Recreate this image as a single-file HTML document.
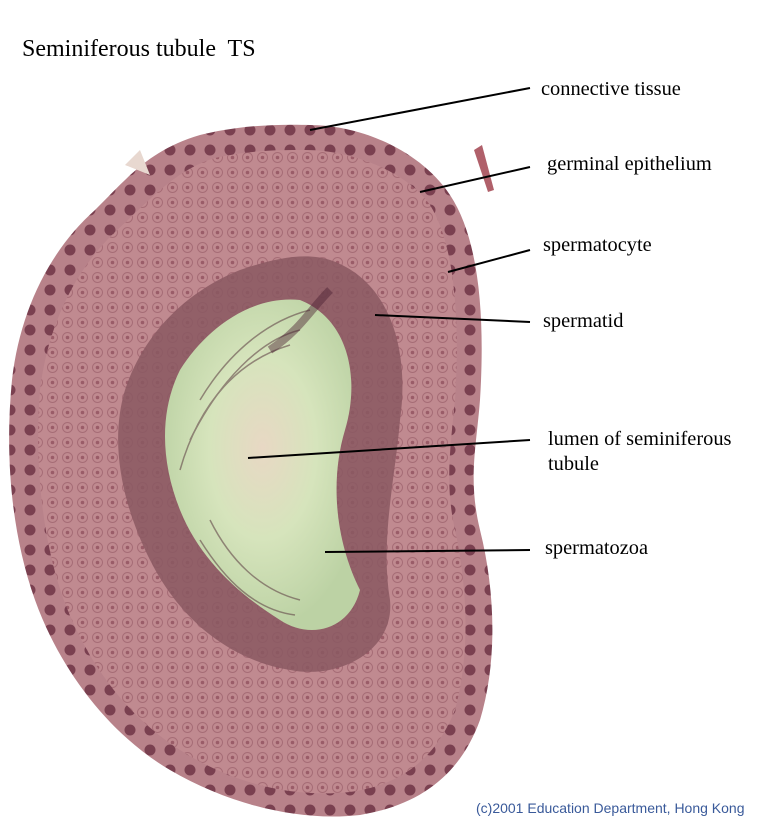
<!DOCTYPE html>
<html><head><meta charset="utf-8"><style>
html,body{margin:0;padding:0;background:#fff;}
body{width:757px;height:831px;overflow:hidden;position:relative;font-family:"Liberation Serif",serif;}
.t{position:absolute;font-size:20.4px;color:#000;white-space:nowrap;}
</style></head><body>
<svg width="757" height="831" style="position:absolute;left:0;top:0">
<defs>
<pattern id="cells" width="15" height="15" patternUnits="userSpaceOnUse">
<rect width="15" height="15" fill="#c08a90"/>
<circle cx="7.5" cy="7.5" r="5" fill="none" stroke="#a66c76" stroke-width="1"/>
<circle cx="7.5" cy="7.5" r="1.8" fill="#9a5c68"/>
</pattern>
<pattern id="nuc" width="20" height="20" patternUnits="userSpaceOnUse">
<rect width="20" height="20" fill="#b8828a"/>
<circle cx="10" cy="10" r="5.5" fill="#7a4050"/>
</pattern>
<radialGradient id="lum" cx="0.5" cy="0.45" r="0.55">
<stop offset="0" stop-color="#e8d8c4"/>
<stop offset="0.5" stop-color="#d6e4bc"/>
<stop offset="1" stop-color="#bcd2a4"/>
</radialGradient>
</defs>
<path d="M310,125 C360,125 420,150 450,195 C480,240 485,320 480,400 C476,450 468,480 480,530 C495,590 498,660 480,720 C460,775 420,805 360,815 C300,822 230,805 170,770 C110,735 60,670 35,600 C10,530 5,450 12,380 C20,310 50,250 95,210 C130,175 150,150 200,135 C240,125 280,124 310,125 Z" fill="url(#nuc)"/>
<path d="M305,150 C350,150 405,170 430,205 C455,245 460,320 455,400 C450,450 445,485 455,530 C468,590 470,655 455,710 C435,760 400,785 350,792 C295,798 235,785 180,750 C125,715 85,660 62,595 C40,530 35,455 40,390 C48,325 75,270 115,232 C150,200 175,170 215,158 C250,150 280,150 305,150 Z" fill="url(#cells)"/>
<path d="M330,260 C390,280 410,350 400,420 C395,480 380,540 390,600 C395,650 340,680 290,670 C230,660 180,620 150,560 C120,500 110,440 125,390 C145,330 190,290 240,270 C275,258 305,252 330,260 Z" fill="#8a5862" opacity="0.85"/>
<path d="M300,300 C350,320 360,380 345,430 C330,480 335,540 360,590 C350,630 310,640 280,620 C240,595 200,560 180,510 C160,460 160,410 180,370 C205,330 250,295 300,300 Z" fill="url(#lum)"/>
<g stroke="#5a3a40" stroke-width="1.5" fill="none" opacity=".55">
<path d="M200,400 C230,350 270,320 310,310"/>
<path d="M190,440 C220,380 260,340 300,330"/>
<path d="M180,470 C200,400 240,360 290,345"/>
<path d="M210,520 C230,560 260,590 300,600"/>
<path d="M200,540 C225,580 255,610 295,615"/>
</g>
<path d="M270,350 C300,330 310,310 330,290" stroke="#4a2030" stroke-width="8" fill="none" opacity=".45"/>
<path d="M125,165 L140,150 L150,175 Z" fill="#e8d8d0"/>
<path d="M474,150 L482,145 L494,190 L488,192 Z" fill="#b0606a"/>
<g stroke="#000" stroke-width="2">
<line x1="310" y1="130" x2="530" y2="88"/>
<line x1="420" y1="192" x2="530" y2="167"/>
<line x1="448" y1="272" x2="530" y2="250"/>
<line x1="375" y1="315" x2="530" y2="322"/>
<line x1="248" y1="458" x2="530" y2="440"/>
<line x1="325" y1="552" x2="530" y2="550"/>
</g>
</svg>
<div class="t" style="left:22px;top:36px;font-size:24px">Seminiferous tubule&nbsp; TS</div>
<div class="t" style="left:541px;top:78px">connective tissue</div>
<div class="t" style="left:547px;top:153px">germinal epithelium</div>
<div class="t" style="left:543px;top:234px">spermatocyte</div>
<div class="t" style="left:543px;top:310px">spermatid</div>
<div class="t" style="left:548px;top:427px;line-height:25px">lumen of seminiferous<br>tubule</div>
<div class="t" style="left:545px;top:537px">spermatozoa</div>
<div class="t" style="left:476px;top:800px;font-family:'Liberation Sans',sans-serif;font-size:14px;color:#3a5a9a">(c)2001 Education Department, Hong Kong</div>
</body></html>
